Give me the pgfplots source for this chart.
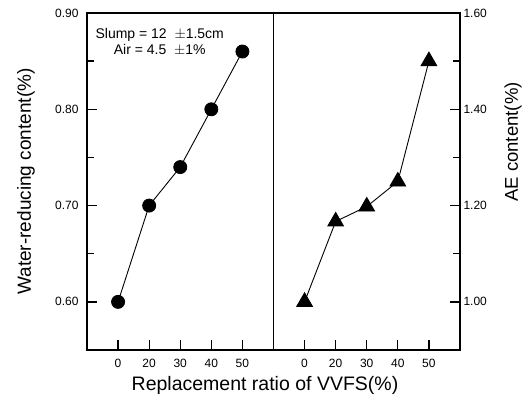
\documentclass[border=0pt]{standalone}
\usepackage{pgfplots}
\pgfplotsset{compat=1.18}
\usepackage{fontspec}
\setmainfont{Liberation Sans}
\pgfplotsset{
  common/.style={
    scale only axis, width=186.5pt, height=337pt,
    xmin=-1, xmax=5, xtick={0,1,2,3,4}, xticklabels={0,20,30,40,50},
    xtick pos=bottom, tick align=inside,
    major tick length=10pt, minor tick length=7pt,
    axis line style={line width=1.2pt},
    every tick/.append style={black, line width=1.2pt},
    ticklabel style={font=\fontsize{12}{13}\selectfont},
    xticklabel style={yshift=-6pt},
    /pgf/number format/assume math mode=true,
    yticklabel style={/pgf/number format/fixed, /pgf/number format/fixed zerofill, /pgf/number format/precision=2},
    minor y tick num=1,
  }
}
\begin{document}
\begin{tikzpicture}
\path (-87pt,-47pt) rectangle (440pt,350pt);
\begin{axis}[common, at={(0pt,0pt)}, anchor=south west,
  ymin=0.55, ymax=0.90, ytick={0.60,0.70,0.80,0.90},
  ytick pos=left, yticklabel style={xshift=-5pt}]
\addplot[black, line width=0.9pt, mark=*, mark size=6.5pt] coordinates {
 (0,0.60) (1,0.70) (2,0.74) (3,0.80) (4,0.86)};
\node[align=center, font=\fontsize{14}{16}\selectfont] at (rel axis cs:0.39,0.915)
  {Slump = 12 \ $\pm$1.5cm\\Air = 4.5 \ $\pm$1\%};
\end{axis}
\begin{axis}[common, at={(186.5pt,0pt)}, anchor=south west,
  ymin=0.90, ymax=1.60, ytick={1.00,1.20,1.40,1.60},
  ytick pos=right]
\addplot[black, line width=0.9pt, mark=triangle*, mark size=9pt] coordinates {
 (0,1.00) (1,1.167) (2,1.198) (3,1.25) (4,1.50)};
\end{axis}
% axis tick lines (decoration)
\foreach \t in {48.14,144.43,240.71,337} {
  \draw[line width=1.3pt] (0pt,\t pt) -- (10pt,\t pt);
  \draw[line width=1.3pt] (373pt,\t pt) -- (363pt,\t pt);
}
\foreach \t in {96.29,192.57,288.86} {
  \draw[line width=1.3pt] (0pt,\t pt) -- (7pt,\t pt);
  \draw[line width=1.3pt] (373pt,\t pt) -- (366pt,\t pt);
}
\foreach \t in {31.08,62.17,93.25,124.33,155.42,217.58,248.67,279.75,310.83,341.92} {
  \draw[line width=1.3pt] (\t pt,0pt) -- (\t pt,10pt);
}
\node[rotate=90, font=\fontsize{19}{21}\selectfont] at (-61pt,168.5pt) {Water-reducing content(\%)};
\node[rotate=90, font=\fontsize{18.5}{21}\selectfont] at (426pt,208pt) {AE content(\%)};
\node[font=\fontsize{19.5}{21}\selectfont] at (178pt,-35pt) {Replacement ratio of VVFS(\%)};
\end{tikzpicture}
\end{document}
